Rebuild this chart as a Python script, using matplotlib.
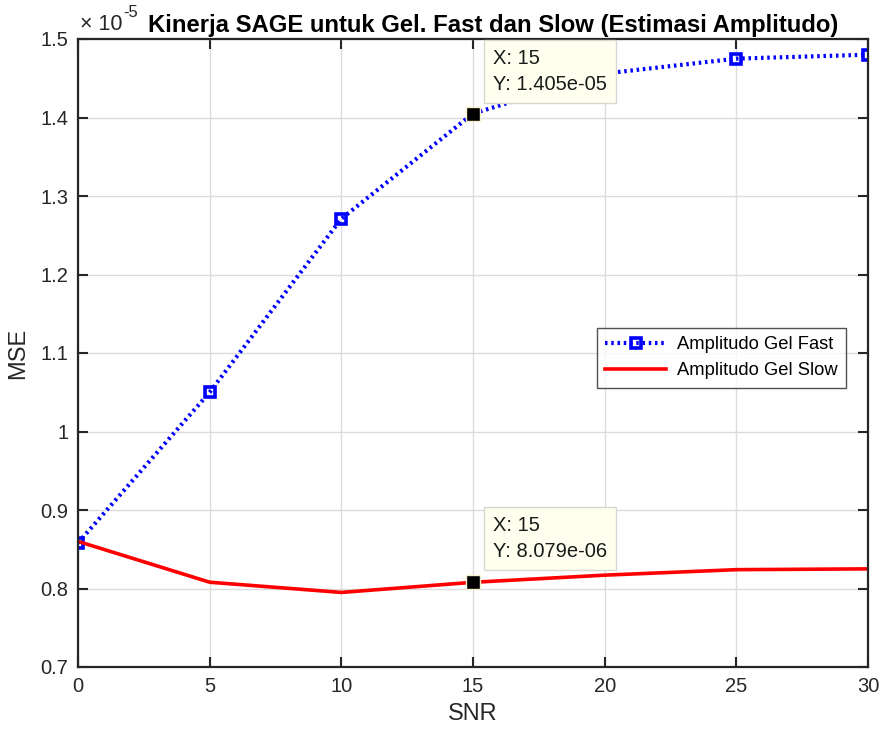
import matplotlib
matplotlib.use("Agg")
import matplotlib.pyplot as plt
from matplotlib.ticker import FixedLocator
from matplotlib.transforms import offset_copy

plt.rcParams['font.family'] = ['Liberation Sans', 'DejaVu Sans']

snr = [0, 5, 10, 15, 20, 25, 30]
mse_fast = [0.858e-5, 1.050e-5, 1.271e-5, 1.405e-5, 1.456e-5, 1.475e-5, 1.480e-5]
mse_slow = [0.860e-5, 0.808e-5, 0.795e-5, 0.8079e-5, 0.817e-5, 0.824e-5, 0.825e-5]
xticks = [0, 5, 10, 15, 20, 25, 30]
yticks = [0.7, 0.8, 0.9, 1.0, 1.1, 1.2, 1.3, 1.4, 1.5]
ytick_labels = ['0.7', '0.8', '0.9', '1', '1.1', '1.2', '1.3', '1.4', '1.5']
tip_x = 15
tip_fast = 1.405e-5
tip_slow = 8.079e-6

fig = plt.figure(figsize=(8.83, 7.31), dpi=100)
ax = fig.add_axes([78/883, 64/731, 790/883, 628/731])

scale = 1e-5
ax.plot(snr, [v/scale for v in mse_fast], color='#0000ff', linestyle=(0, (0.6, 0.9)),
        linewidth=3.0, marker='s', markersize=7.5, markerfacecolor='none',
        markeredgecolor='#0000ff', markeredgewidth=2.6, label='Amplitudo Gel Fast',
        dash_capstyle='butt')
ax.plot(snr, [v/scale for v in mse_slow], color='#ff0000', linewidth=2.6,
        label='Amplitudo Gel Slow')

# data tips
for yv in (tip_fast, tip_slow):
    ax.plot([tip_x], [yv/scale], marker='s', markersize=10.5, color='black',
            markeredgecolor='#f5f0c8', markeredgewidth=1.0, zorder=5)

tip_style = dict(fontsize=14.5, va='top', ha='left', linespacing=1.45, zorder=6,
                 color='#1a1a1a',
                 bbox=dict(boxstyle='square,pad=0.45', facecolor='#fffff0',
                           edgecolor='#d8d8d0', linewidth=1))
ax.text(15.75, 1.4875, 'X: 15\nY: 1.405e-05', **tip_style)
ax.text(15.75, 0.8925, 'X: 15\nY: 8.079e-06', **tip_style)

ax.set_xlim(0, 30)
ax.set_ylim(0.7, 1.5)
ax.xaxis.set_major_locator(FixedLocator(xticks))
ax.set_yticks(yticks)
ax.set_yticklabels(ytick_labels)
ax.grid(True, color='#dcdcdc', linewidth=1)
ax.set_axisbelow(True)
ax.tick_params(direction='in', length=7, width=1.5, colors='#262626', labelsize=14.5,
               top=True, right=True, pad=7)
for s in ax.spines.values():
    s.set_linewidth(1.6)
    s.set_color('#262626')

ax.set_xlabel('SNR', fontsize=17, color='#262626', labelpad=5)
ax.set_ylabel('MSE', fontsize=17, color='#262626', labelpad=8)
ax.set_title('Kinerja SAGE untuk Gel. Fast dan Slow (Estimasi Amplitudo)',
             fontsize=17.2, fontweight='bold', pad=5, loc='center', x=0.526)

mult = ax.text(0.002, 1.006, '\u00d7 10', transform=ax.transAxes, fontsize=15.5,
               color='#262626', ha='left', va='bottom')
fig.canvas.draw()
bb = mult.get_window_extent(renderer=fig.canvas.get_renderer())
fig.text(bb.x1 + 1, bb.y1 - 6, '-5', transform=None, fontsize=12,
         color='#262626', ha='left', va='bottom')

leg = ax.legend(loc='upper left', fontsize=13.2, frameon=True,
                fancybox=False, edgecolor='#262626', borderpad=0.45, handlelength=3.3,
                labelspacing=0.5, handletextpad=0.6, borderaxespad=0)
leg.set_bbox_to_anchor((597/883, 403/731), transform=fig.transFigure)
leg.get_frame().set_linewidth(1.0)

fig.savefig('out.png', dpi=100)
